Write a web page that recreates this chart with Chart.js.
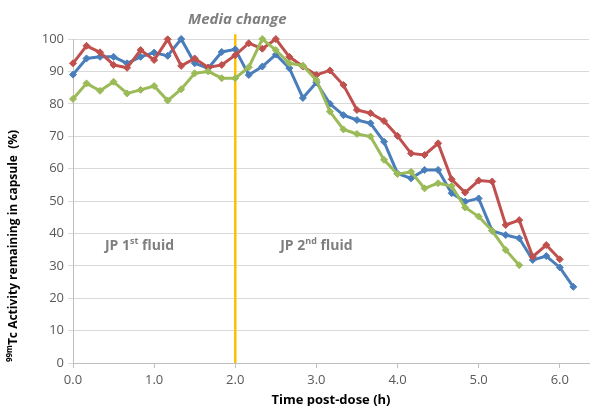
<!DOCTYPE html>
<html lang="en">
<head>
    <meta charset="UTF-8">
    <title>99mTc activity remaining in capsule</title>
    <script src="https://cdn.jsdelivr.net/npm/chart.js"></script>
    <style>
        html, body {
            margin: 0;
            padding: 0;
            background: #ffffff;
        }

        #chart-container {
            width: 594px;
            height: 406px;
        }
    </style>
</head>
<body>
    <div id="chart-container">
        <canvas id="activityChart"></canvas>
    </div>

    <script>
        // Sampling every 10 minutes (1/6 h)
        const sampleStep = 1 / 6;
        const xTicks = [0, 1, 2, 3, 4, 5, 6];
        const yTicks = [0, 10, 20, 30, 40, 50, 60, 70, 80, 90, 100];
        const mediaChangeTime = 2.0;

        // Activity remaining (%) per subject
        const blueValues = [89, 94, 94.5, 94.5, 92.5, 94.5, 95.8, 94.8, 100, 92.5,
            91, 96, 96.8, 88.9, 91.5, 95.2, 91, 81.8, 86.6, 80,
            76.5, 75, 74, 68.3, 58.5, 57, 59.6, 59.6, 52.4, 49.8,
            50.8, 40.8, 39.5, 38.5, 31.8, 33, 29.5, 23.5];
        const redValues = [92.5, 97.9, 95.9, 92, 91.1, 96.6, 93.5, 99.9, 91.7, 94,
            91.2, 92, 95, 98.7, 97, 100, 94.5, 91.5, 88.9, 90.3,
            85.8, 78.1, 77.1, 74.7, 70.1, 64.7, 64.2, 67.8, 56.7, 52.6,
            56.3, 56, 42.6, 44.1, 32.8, 36.4, 32];
        const greenValues = [81.5, 86.3, 84, 86.8, 83.2, 84.3, 85.5, 81, 84.5, 89.4,
            90, 87.9, 87.9, 91.3, 100, 96.6, 92.5, 91.8, 87.3, 77.6,
            72.1, 70.7, 69.9, 62.7, 58.3, 59, 53.9, 55.5, 54.6, 48,
            45.2, 40.8, 34.9, 30.2];

        function toPoints(values) {
            return values.map((v, i) => ({ x: i * sampleStep, y: v }));
        }

        function series(values, color, order) {
            return {
                data: toPoints(values),
                borderColor: color,
                backgroundColor: color,
                borderWidth: 3,
                pointStyle: 'rectRot',
                pointRadius: 3.5,
                pointBorderWidth: 1,
                order: order,
                clip: false
            };
        }

        // Draws labels with superscripts (not possible with built-in titles)
        const labelPlugin = {
            id: 'labels',
            afterDraw(chart) {
                const ctx = chart.ctx;
                const x = chart.scales.x;
                const y = chart.scales.y;
                const family = '"Open Sans", sans-serif';

                function drawParts(parts, startX, baseY) {
                    let cx = startX;
                    parts.forEach(p => {
                        ctx.font = p.font;
                        ctx.fillText(p.text, cx, baseY + (p.rise || 0));
                        cx += ctx.measureText(p.text).width;
                    });
                }

                function width(parts) {
                    let w = 0;
                    parts.forEach(p => {
                        ctx.font = p.font;
                        w += ctx.measureText(p.text).width;
                    });
                    return w;
                }

                ctx.save();
                ctx.fillStyle = '#7f7f7f';
                ctx.textBaseline = 'alphabetic';
                ctx.textAlign = 'left';

                // Media change
                ctx.font = 'italic bold 15px ' + family;
                const mc = 'Media change';
                ctx.fillText(mc, x.getPixelForValue(mediaChangeTime) - ctx.measureText(mc).width / 2 + 2, 24);

                // Fluid labels
                const big = 'bold 14px ' + family;
                const small = 'bold 9px ' + family;
                const jp1 = [{ text: 'JP 1', font: big }, { text: 'st', font: small, rise: -6 }, { text: ' fluid', font: big }];
                const jp2 = [{ text: 'JP 2', font: big }, { text: 'nd', font: small, rise: -6 }, { text: ' fluid', font: big }];
                const labelY = y.getPixelForValue(34.8);
                drawParts(jp1, x.getPixelForValue(0.82) - width(jp1) / 2, labelY);
                drawParts(jp2, x.getPixelForValue(3.0) - width(jp2) / 2, labelY);

                // Axis titles
                ctx.fillStyle = '#000000';
                ctx.font = 'bold 13px ' + family;
                const xt = 'Time post-dose (h)';
                ctx.fillText(xt, (chart.chartArea.left + chart.chartArea.right) / 2 - ctx.measureText(xt).width / 2, 404);

                const yParts = [
                    { text: '99m', font: 'bold 8px ' + family, rise: -5 },
                    { text: 'Tc Activity remaining in capsule  (%)', font: 'bold 12px ' + family }
                ];
                ctx.translate(17, (y.top + y.bottom) / 2 + 45);
                ctx.rotate(-Math.PI / 2);
                drawParts(yParts, -width(yParts) / 2, 0);
                ctx.restore();
            }
        };

        const config = {
            type: 'line',
            data: {
                datasets: [
                    {
                        data: [{ x: mediaChangeTime, y: 0 }, { x: mediaChangeTime, y: 101.5 }],
                        borderColor: '#ffc000',
                        borderWidth: 2.5,
                        pointRadius: 0,
                        order: 3,
                        clip: false
                    },
                    series(blueValues, '#4a7ebb', 2),
                    series(redValues, '#c0504d', 1),
                    series(greenValues, '#9bbb59', 0)
                ]
            },
            options: {
                responsive: false,
                animation: false,
                layout: { padding: { top: 39, right: 0, left: 0, bottom: 0 } },
                plugins: {
                    legend: { display: false },
                    tooltip: { enabled: false }
                },
                scales: {
                    x: {
                        type: 'linear',
                        min: 0,
                        max: 6.36,
                        afterBuildTicks: s => { s.ticks = xTicks.map(v => ({ value: v })); },
                        afterFit: s => { s.height = 43; },
                        grid: { drawOnChartArea: false, tickLength: 5, color: '#bfbfbf' },
                        border: { color: '#bfbfbf' },
                        ticks: {
                            color: '#595959',
                            font: { family: '"Open Sans", sans-serif', size: 13 },
                            padding: 4,
                            maxRotation: 0,
                            callback: v => v.toFixed(1)
                        }
                    },
                    y: {
                        min: 0,
                        max: 100,
                        afterBuildTicks: s => { s.ticks = yTicks.map(v => ({ value: v })); },
                        afterFit: s => { s.width = 73; },
                        grid: { color: '#d9d9d9', tickLength: 5 },
                        border: { color: '#bfbfbf' },
                        ticks: {
                            color: '#595959',
                            font: { family: '"Open Sans", sans-serif', size: 13 },
                            padding: 4
                        }
                    }
                }
            },
            plugins: [labelPlugin]
        };

        const canvas = document.getElementById('activityChart');
        canvas.width = 594;
        canvas.height = 406;
        new Chart(canvas, config);
    </script>
</body>
</html>
